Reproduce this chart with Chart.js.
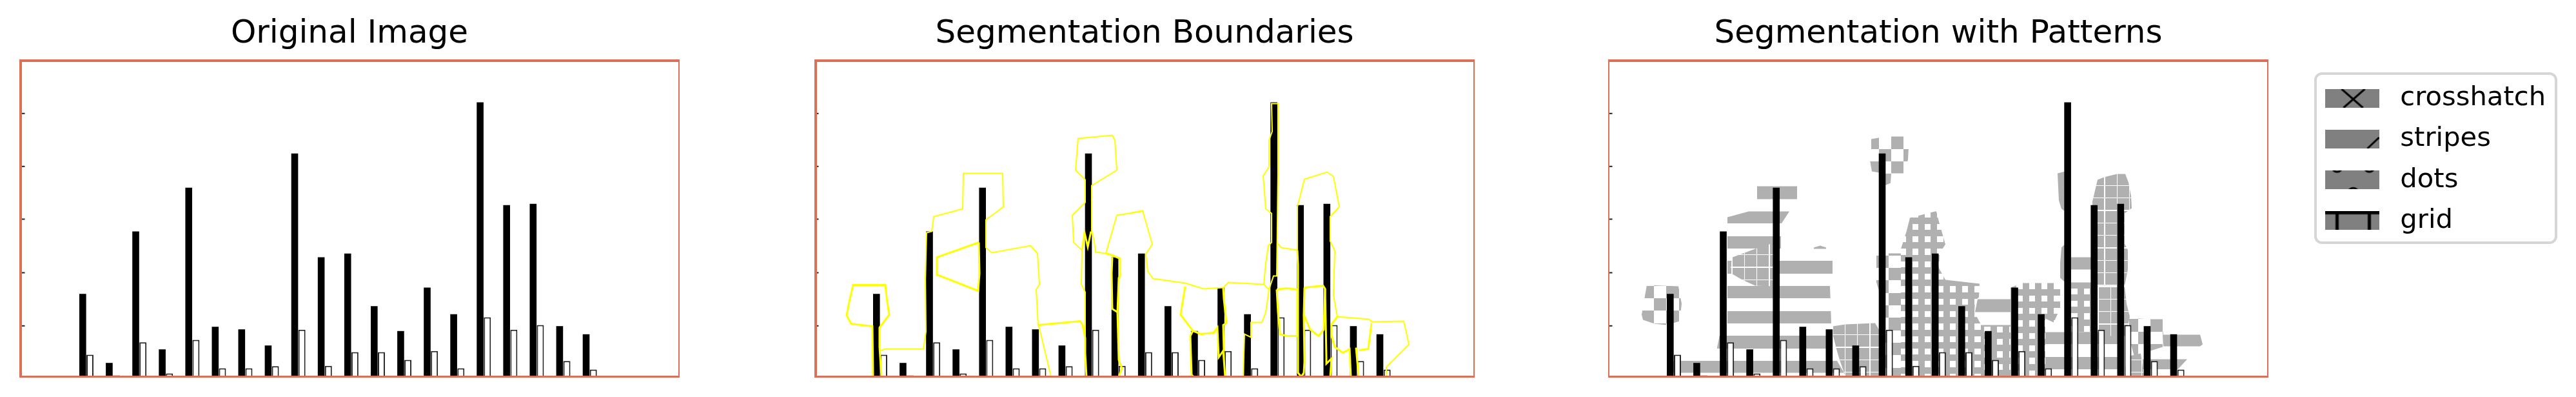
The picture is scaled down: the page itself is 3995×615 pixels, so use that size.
<!DOCTYPE html>
<html>
<head>
<meta charset="utf-8">
<script src="https://cdn.jsdelivr.net/npm/chart.js@4"></script>
<style>
  html, body { margin: 0; background: #fff; }
  body { position: relative; width: 3995px; height: 615px; overflow: hidden; }
  canvas { position: absolute; top: 0; }
  #legendBox { position: absolute; left: 3589px; top: 112px; width: 369px; height: 258px; border: 4px solid #d6d6d6; border-radius: 12px; }
</style>
</head>
<body>
<canvas id="panel1" width="1024" height="585" style="left:30px"></canvas>
<canvas id="panel2" width="1024" height="585" style="left:1263px"></canvas>
<canvas id="panel3" width="1024" height="585" style="left:2494px"></canvas>
<div id="legendBox"></div>
<canvas id="legendCanvas" width="390" height="300" style="left:3572px;top:110px"></canvas>
<script>
const titles = ['Original Image', 'Segmentation Boundaries', 'Segmentation with Patterns'];
const legendLabels = ['crosshatch', 'stripes', 'dots', 'grid'];

const categories = [101.9, 143, 184.1, 225.2, 266.3, 307.4, 348.4, 389.5, 430.6, 471.7, 512.8, 553.9, 595, 636.1, 677.2, 718.2, 759.3, 800.4, 841.5, 882.6];
const darkBars = [128.3, 21.3, 225, 42.3, 292.7, 77.3, 73.3, 48.3, 345.7, 185, 190.7, 109.3, 70.7, 138, 96.7, 425, 265.7, 267.7, 78.3, 65.7];
const lightBars = [34, 2, 53.3, 5, 57, 13, 13, 16.3, 72.7, 16.7, 38, 38, 26, 39.7, 13, 92, 72.7, 80, 24.3, 11];
const tickValues = [78.7, 161, 244, 325.7, 407.7];

// boundaries, panel 2
const edgeBar1 = [[91,0],[90,78],[57,82],[50,95],[54,116],[60,142],[110,142],[112,123],[116,96],[101,76],[101,46],[104,0]];
const edgeBars3to7 = [[101,40],[110,43],[169,43],[173,70],[172,150],[174,223],[182,225],[185,248],[230,260],[231,315],[292,315],[293,263],[266,243],[266,200],[275,192],[335,203],[346,191],[349,143],[344,135],[347,80],[349,75],[367,0]];
const edgeWedge = [[255,208],[190,185],[190,158],[254,133],[256,160],[255,208]];
const edgeBar8 = [[347,80],[412,86],[416,80],[420,60],[420,36],[422,0]];
const edgeBar9 = [[420,40],[420,131],[414,143],[415,196],[402,208],[400,250],[420,270],[420,305],[405,320],[409,369],[462,374],[466,366],[469,320],[430,296],[430,226],[434,210],[436,193],[452,191],[469,250],[507,256]];
const edgeBar9Notch = [[415,196],[419,223],[424,201],[429,225]];
const edgeBar10 = [[452,191],[462,188],[474,183],[474,155],[472,153],[470,100],[462,105],[461,160],[462,185]];
const edgeBar10Low = [[470,100],[472,26],[477,13],[472,0]];
const edgeBars11to15 = [[492,254],[509,257],[524,205],[514,190],[517,163],[525,152],[575,145],[604,136],[634,138],[642,146],[697,143],[705,135],[700,100],[694,84],[677,84],[677,61],[667,66],[665,0]];
const edgeBar13 = [[575,140],[568,96],[587,71],[599,66],[619,68],[625,76],[627,30],[634,40],[637,0]];
const edgeBar13Left = [[587,71],[583,63],[585,3],[588,0]];
const edgeBar14 = [[634,138],[635,120],[639,83],[634,80],[635,40]];
const edgeBar16 = [[697,143],[700,176],[704,203],[709,208],[709,253],[700,260],[696,311],[705,325],[705,366],[710,380],[709,423],[719,423],[719,313],[717,156],[712,156],[705,135]];
const edgeBar16Right = [[719,206],[724,200],[749,196]];
const edgeBar17Top = [[749,196],[749,263],[760,306],[795,317],[805,310],[814,263],[800,248],[800,210],[807,195],[805,126],[811,93],[860,89],[865,85],[914,86],[922,50],[887,15],[887,0]];
const edgeBar17 = [[749,196],[750,173],[750,50],[750,6],[755,0],[759,6],[760,23],[759,96],[760,138]];
const edgeBox1 = [[717,135],[732,137],[749,135],[749,63],[732,63],[722,66],[719,100],[717,135]];
const edgeBox2 = [[760,138],[789,141],[792,136],[790,73],[782,63],[769,73],[759,96]];
const edgeBar18 = [[792,136],[794,30],[794,20],[802,28],[800,0]];
const edgeBar19 = [[811,93],[802,81],[802,63],[807,46],[820,37],[830,43],[832,0]];
const edgeBar19Right = [[840,45],[844,0]];
const edgeBar20 = [[845,41],[859,43],[864,83]];
const edgesThick = [edgeBar1, edgeWedge, edgeBar8, edgeBar9Notch, edgeBar10, edgeBar10Low, edgeBar13, edgeBar13Left, edgeBar14, edgeBox1, edgeBox2, edgeBar17, edgeBar18, edgeBar19, edgeBar19Right, edgeBar20];
const edgesThin = [edgeBars3to7, edgeBar9, edgeBars11to15, edgeBar16, edgeBar16Right, edgeBar17Top];

// filled regions, panel 3
const checkA = [[60,142],[109,140],[114,113],[111,86],[91,80],[72,82],[54,88],[52,96],[57,125]];
const checkB = [[408,368],[419,370],[439,372],[458,372],[466,355],[465,336],[458,315],[439,315],[438,300],[431,297],[420,297],[420,316],[409,318],[406,335],[408,353]];
const checkC = [[416,188],[434,191],[453,191],[462,186],[462,0],[420,0],[420,133],[416,146]];
const checkD = [[808,91],[841,89],[860,89],[861,63],[860,46],[844,41],[829,36],[824,31],[816,31],[808,61]];
const solidA = [[231,295],[293,295],[293,275],[231,275]];
const solidB = [[319,200],[329,203],[338,200],[338,198],[319,198]];
const solidC = [[697,315],[709,318],[709,256],[703,260],[699,273],[698,293]];
const solidD = [[703,200],[709,206],[709,146],[701,153],[701,176]];
const solidE = [[573,120],[626,120],[626,100],[569,100]];
const solidF = [[718,185],[749,185],[749,166],[718,166]];
const solidG = [[861,65],[918,65],[922,50],[918,47],[861,47]];
const stripeA = [[185,247],[218,256],[281,256],[268,236],[268,180],[348,180],[348,160],[344,140],[346,83],[348,43],[354,26],[366,6],[101,6],[101,25],[171,25],[169,45],[173,65],[185,65]];
const stripeB = [[678,69],[791,69],[791,11],[678,11]];
const stripeC = [[829,27],[898,27],[883,11],[829,11]];
const gridA = [[193,185],[228,198],[249,205],[256,206],[256,140],[228,141],[208,150],[191,160],[190,173]];
const gridB = [[348,78],[368,81],[414,83],[420,73],[420,0],[368,0],[359,26],[354,43],[349,63]];
const gridC = [[751,271],[759,305],[769,309],[789,314],[802,314],[807,301],[811,280],[812,261],[801,253],[801,206],[806,196],[806,166],[801,141],[759,141],[759,260],[751,263]];
const gridD = [[759,141],[801,141],[804,113],[809,93],[803,63],[779,63],[759,73]];
const gridE = [[804,31],[826,36],[831,0],[801,0]];
const dotsA = [[454,198],[463,226],[468,246],[507,256],[509,256],[513,240],[523,205],[514,191],[513,168],[523,150],[576,144],[575,123],[569,118],[568,100],[578,81],[578,0],[454,0]];
const dotsB = [[578,80],[624,80],[624,0],[578,0]];
const dotsC = [[624,138],[643,145],[701,145],[701,106],[691,84],[678,90],[678,0],[624,0]];
const dotsD = [[718,146],[749,146],[759,141],[759,69],[718,69]];

const GRAY = '#b0b0b0';
const YELLOW = '#ffff00';
const FRAME = '#dc6f58';

Chart.defaults.font.family = '"DejaVu Sans"';
Chart.defaults.color = '#000';

function tile(size, draw) {
  const c = document.createElement('canvas');
  c.width = size;
  c.height = size;
  draw(c.getContext('2d'));
  return c;
}

// tiles are drawn at 3x and scaled down, the cell size in the picture is 19.33px
const tiles = {
  stripes: tile(116, g => { g.fillStyle = GRAY; g.fillRect(0, 0, 116, 58); }),
  check: tile(116, g => { g.fillStyle = GRAY; g.fillRect(0, 0, 58, 58); g.fillRect(58, 58, 58, 58); }),
  grid: tile(58, g => { g.fillStyle = GRAY; g.fillRect(0, 0, 58, 58); g.fillStyle = '#fff'; g.fillRect(0, 0, 4, 58); g.fillRect(0, 0, 58, 4); }),
  dots: tile(58, g => { g.fillStyle = GRAY; g.fillRect(0, 0, 58, 58); g.fillStyle = '#fff'; g.fillRect(0, 0, 28, 28); })
};

function pattern(ctx, name, x, y) {
  const p = ctx.createPattern(tiles[name], 'repeat');
  p.setTransform(new DOMMatrix().translate(x, y).scale(1 / 3));
  return p;
}

function region(data, fill, order) {
  return { type: 'scatter', data: data, showLine: true, fill: 'shape', backgroundColor: fill, borderWidth: 0, pointRadius: 0, order: order };
}

function edges(list, width) {
  return list.map(data => ({ type: 'scatter', data: data, showLine: true, fill: false, borderColor: YELLOW, borderWidth: width, pointRadius: 0, order: 0 }));
}

function barSets() {
  return [
    { data: categories.map((x, i) => ({ x: x, y: darkBars[i] })), backgroundColor: '#000', barPercentage: 0.95, order: 1 },
    { data: categories.map((x, i) => ({ x: x, y: lightBars[i] })), backgroundColor: '#fff', borderColor: '#222', borderWidth: 2, barPercentage: 0.98, order: 1 },
    { type: 'scatter', data: tickValues.map(v => ({ x: 4, y: v })), pointStyle: 'line', pointRadius: 2.5, pointBorderWidth: 2, pointBorderColor: '#222', order: 1 }
  ];
}

// red frame round each panel: left, top, right, bottom
const framePlugin = {
  id: 'frame',
  afterDatasetsDraw(chart, args, opts) {
    const a = chart.chartArea, c = chart.ctx, w = opts.widths;
    c.save();
    c.fillStyle = FRAME;
    c.fillRect(a.left, a.top, w[0], a.height);
    c.fillRect(a.left, a.top, a.width, w[1]);
    c.fillRect(a.right - w[2], a.top, w[2], a.height);
    c.fillRect(a.left, a.bottom - w[3], a.width, w[3]);
    c.restore();
  }
};

function panel(id, title, extra, widths, xMin) {
  return new Chart(document.getElementById(id), {
    type: 'bar',
    data: { datasets: barSets().concat(extra) },
    plugins: [framePlugin],
    options: {
      responsive: false,
      animation: false,
      devicePixelRatio: 1,
      events: [],
      categoryPercentage: 0.545,
      layout: { padding: 0, autoPadding: false },
      scales: {
        x: { type: 'linear', min: xMin, max: xMin + 1024, offset: false, display: false },
        y: { min: -1.5, max: 491.5, display: false }
      },
      plugins: {
        legend: { display: false },
        tooltip: { enabled: false },
        title: { display: true, text: title, font: { size: 50, weight: 'normal', lineHeight: 1.2 }, padding: { top: 23, bottom: 9 } },
        frame: { widths: widths }
      }
    }
  });
}

panel('panel1', titles[0], [], [4, 4, 2, 3], -2);
panel('panel2', titles[1], edges(edgesThick, 3).concat(edges(edgesThin, 2)), [4, 4, 2, 3], 0);

const p3 = document.getElementById('panel3').getContext('2d');
panel('panel3', titles[2], [
  region(stripeA, pattern(p3, 'stripes', 0, 288.33), 4),
  region(stripeB, pattern(p3, 'stripes', 0, 514), 4),
  region(stripeC, pattern(p3, 'stripes', 0, 514), 4),
  region(solidA, GRAY, 3),
  region(solidB, GRAY, 3),
  region(solidC, GRAY, 3),
  region(solidD, GRAY, 3),
  region(solidE, GRAY, 3),
  region(solidF, GRAY, 3),
  region(solidG, GRAY, 3),
  region(checkA, pattern(p3, 'check', 90.33, 442.67), 3),
  region(checkB, pattern(p3, 'check', 439, 211.33), 3),
  region(checkC, pattern(p3, 'check', 435.33, 415), 3),
  region(checkD, pattern(p3, 'check', 841, 494.33), 3),
  region(gridA, pattern(p3, 'grid', 210.67, 413.33), 2),
  region(gridB, pattern(p3, 'grid', 366.67, 537.33), 2),
  region(gridC, pattern(p3, 'grid', 769.33, 306), 2),
  region(gridD, pattern(p3, 'grid', 778.67, 462.67), 2),
  region(gridE, pattern(p3, 'grid', 826.67, 556.67), 2),
  region(dotsA, pattern(p3, 'dots', 471.67, 346.67), 2),
  region(dotsB, pattern(p3, 'dots', 602.67, 525), 2),
  region(dotsC, pattern(p3, 'dots', 652.67, 457.67), 2),
  region(dotsD, pattern(p3, 'dots', 737.67, 446.67), 2)
], [2, 4, 2, 3], 0);

// legend swatches
function swatch(draw) {
  const c = document.createElement('canvas');
  c.width = 84;
  c.height = 29;
  const g = c.getContext('2d');
  g.fillStyle = '#808080';
  g.fillRect(0, 0, 84, 29);
  g.strokeStyle = '#000';
  g.lineWidth = 3;
  draw(g);
  return c;
}

function stroke(g, x1, y1, x2, y2) {
  g.beginPath();
  g.moveTo(x1, y1);
  g.lineTo(x2, y2);
  g.stroke();
}

function ring(g, x, y) {
  g.beginPath();
  g.arc(x, y, 8, 0, Math.PI * 2);
  g.stroke();
}

const swatches = [
  swatch(g => { stroke(g, 26, 0, 59, 29); stroke(g, 62, 0, 29, 29); }),
  swatch(g => { stroke(g, 66, 29, 84, 12); }),
  swatch(g => { ring(g, 19, -6); ring(g, 69, -6); ring(g, 44, 35); }),
  swatch(g => { g.lineWidth = 5; stroke(g, 0, 2, 84, 2); stroke(g, 19, 0, 19, 29); stroke(g, 69, 0, 69, 29); })
];

new Chart(document.getElementById('legendCanvas'), {
  type: 'bar',
  data: { datasets: [] },
  options: {
    responsive: false,
    animation: false,
    devicePixelRatio: 1,
    events: [],
    scales: { x: { display: false }, y: { display: false } },
    plugins: {
      tooltip: { enabled: false },
      legend: {
        display: true,
        position: 'left',
        align: 'start',
        maxWidth: 390,
        labels: {
          usePointStyle: true,
          pointStyleWidth: 108,
          padding: 21.5,
          color: '#000',
          font: { size: 41.7, lineHeight: 1.2 },
          generateLabels: () => legendLabels.map((text, i) => ({ text: text, pointStyle: swatches[i], fillStyle: '#808080', strokeStyle: '#808080', lineWidth: 0, hidden: false, datasetIndex: i }))
        }
      }
    }
  }
});
</script>
</body>
</html>
